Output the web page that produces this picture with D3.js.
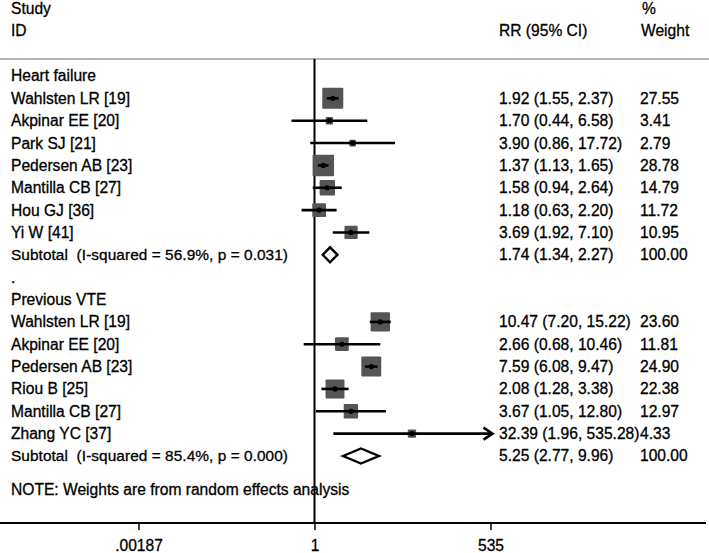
<!DOCTYPE html>
<html><head><meta charset="utf-8">
<script src="https://cdn.jsdelivr.net/npm/d3@7"></script>
<style>
html,body{margin:0;padding:0;background:#fff;}
text{font-family:"Liberation Sans",Arial,sans-serif;font-size:15.6px;fill:#000;stroke:#000;stroke-width:0.3px;white-space:pre;letter-spacing:0;}
text.sub{font-size:15.4px;}
</style></head>
<body>
<svg id="chart" width="709" height="553"></svg>
<script>
// ---- data ----
const hfStudies = ["Wahlsten LR [19]","Akpinar EE [20]","Park SJ [21]","Pedersen AB [23]","Mantilla CB [27]","Hou GJ [36]","Yi W [41]"];
const hfRR      = [1.92, 1.70, 3.90, 1.37, 1.58, 1.18, 3.69];
const hfLower   = [1.55, 0.44, 0.86, 1.13, 0.94, 0.63, 1.92];
const hfUpper   = [2.37, 6.58, 17.72, 1.65, 2.64, 2.20, 7.10];
const hfWeights = [27.55, 3.41, 2.79, 28.78, 14.79, 11.72, 10.95];
const hfSubtotal = [1.74, 1.34, 2.27];          // RR, lower, upper
const hfHet = "Subtotal  (I-squared = 56.9%, p = 0.031)";

const vteStudies = ["Wahlsten LR [19]","Akpinar EE [20]","Pedersen AB [23]","Riou B [25]","Mantilla CB [27]","Zhang YC [37]"];
const vteRR      = [10.47, 2.66, 7.59, 2.08, 3.67, 32.39];
const vteLower   = [7.20, 0.68, 6.08, 1.28, 1.05, 1.96];
const vteUpper   = [15.22, 10.46, 9.47, 3.38, 12.80, 535.28];
const vteWeights = [23.60, 11.81, 24.90, 22.38, 12.97, 4.33];
const vteSubtotal = [5.25, 2.77, 9.96];
const vteHet = "Subtotal  (I-squared = 85.4%, p = 0.000)";

const groupNames = ["Heart failure", "Previous VTE"];
const tickValues = [0.00187, 1, 535];
const tickLabels = [".00187", "1", "535"];
const axisMin = 0.00187, axisMax = 535;
const note = "NOTE: Weights are from random effects analysis";

// ---- build rows ----
const rows = [];
function addGroup(name, studies, rr, lo, hi, w, sub, het) {
  rows.push({type:"group", label:name});
  studies.forEach((s,i)=>rows.push({type:"study", label:s, rr:rr[i], lo:lo[i], hi:hi[i], w:w[i]}));
  rows.push({type:"sub", label:het, rr:sub[0], lo:sub[1], hi:sub[2], w:100});
}
addGroup(groupNames[0], hfStudies, hfRR, hfLower, hfUpper, hfWeights, hfSubtotal, hfHet);
rows.push({type:"sep", label:"."});
addGroup(groupNames[1], vteStudies, vteRR, vteLower, vteUpper, vteWeights, vteSubtotal, vteHet);

const svg = d3.select("#chart");
const x = d3.scaleLog().domain([axisMin, axisMax]).range([138.5, 490.5]);
const y = d3.scaleLinear().domain([0, rows.length-1]).range([76, 456]);
const xLabel = 11, xRR = 499, xW = 640;
const axisY = 523, topLineY = 59;
const fmt = d3.format(".2f");

// headers
svg.append("text").attr("x", xLabel).attr("y", 9).attr("dy","0.35em").text("Study");
svg.append("text").attr("x", xLabel).attr("y", 31).attr("dy","0.35em").text("ID");
svg.append("text").attr("x", xRR).attr("y", 31).attr("dy","0.35em").text("RR (95% CI)");
svg.append("text").attr("x", xW+2).attr("y", 9).attr("dy","0.35em").text("%");
svg.append("text").attr("x", xW+1).attr("y", 31).attr("dy","0.35em").text("Weight");

svg.append("line").attr("x1",0).attr("x2",709).attr("y1",topLineY).attr("y2",topLineY)
  .attr("stroke","#9a9a9a").attr("stroke-width",1.5);

// row labels
rows.forEach((r,i)=>{
  const t = svg.append("text").attr("class", r.type==="sub" ? "sub" : null)
    .attr("x", xLabel).attr("y", y(i)).attr("dy","0.35em").text(r.label);
  if (r.type==="sub") t.attr("textLength", 277).attr("lengthAdjust", "spacing");
  if (r.type==="study" || r.type==="sub") {
    svg.append("text").attr("x", xRR).attr("y", y(i)).attr("dy","0.35em")
      .text(`${fmt(r.rr)} (${fmt(r.lo)}, ${fmt(r.hi)})`);
    svg.append("text").attr("x", xW).attr("y", y(i)).attr("dy","0.35em").text(fmt(r.w));
  }
});

svg.append("text").attr("x", xLabel).attr("y", 490).attr("dy","0.35em").text(note);

// null line
svg.append("line").attr("x1", x(1)).attr("x2", x(1)).attr("y1", topLineY).attr("y2", axisY)
  .attr("stroke","#000").attr("stroke-width",2);

// study markers
const studies = rows.map((r,i)=>({...r, i})).filter(r=>r.type==="study");
const g = svg.append("g");
studies.forEach(r=>{
  const s = 4.0*Math.sqrt(r.w);
  g.append("rect").attr("x", x(r.rr)-s/2).attr("y", y(r.i)-s/2).attr("width", s).attr("height", s)
    .attr("fill","#555").attr("rx",1);
});
studies.forEach(r=>{
  const hiC = Math.min(r.hi, axisMax);
  g.append("line").attr("x1", x(r.lo)).attr("x2", x(hiC)).attr("y1", y(r.i)).attr("y2", y(r.i))
    .attr("stroke","#000").attr("stroke-width",2.6);
  if (r.hi > axisMax*0.999) {
    const xe = x(hiC)+2, yy = y(r.i);
    g.append("path").attr("d", `M${xe-9},${yy-6}L${xe},${yy}L${xe-9},${yy+6}`)
      .attr("fill","none").attr("stroke","#000").attr("stroke-width",2.6);
  }
  g.append("circle").attr("cx", x(r.rr)).attr("cy", y(r.i)).attr("r", 2.6).attr("fill","#000");
});

// subtotal diamonds
rows.forEach((r,i)=>{
  if (r.type!=="sub") return;
  const yy = y(i), h = 7.5;
  g.append("path")
    .attr("d", `M${x(r.lo)},${yy}L${x(r.rr)},${yy-h}L${x(r.hi)},${yy}L${x(r.rr)},${yy+h}Z`)
    .attr("fill","#fff").attr("stroke","#000").attr("stroke-width",2.4).attr("stroke-linejoin","miter");
});

// axis
const axis = d3.axisBottom(x).tickValues(tickValues).tickSize(7).tickPadding(10)
  .tickFormat((d,i)=>tickLabels[i]);
const ag = svg.append("g").attr("transform", `translate(0,${axisY})`).call(axis);
ag.select(".domain").remove();
ag.selectAll(".tick line").attr("stroke","#000").attr("stroke-width",1.5);
ag.selectAll(".tick text").style("font-size","15.6px").attr("fill","#000");
ag.append("line").attr("x1",0).attr("x2",706).attr("y1",0).attr("y2",0)
  .attr("stroke","#000").attr("stroke-width",2);
</script>
</body></html>
